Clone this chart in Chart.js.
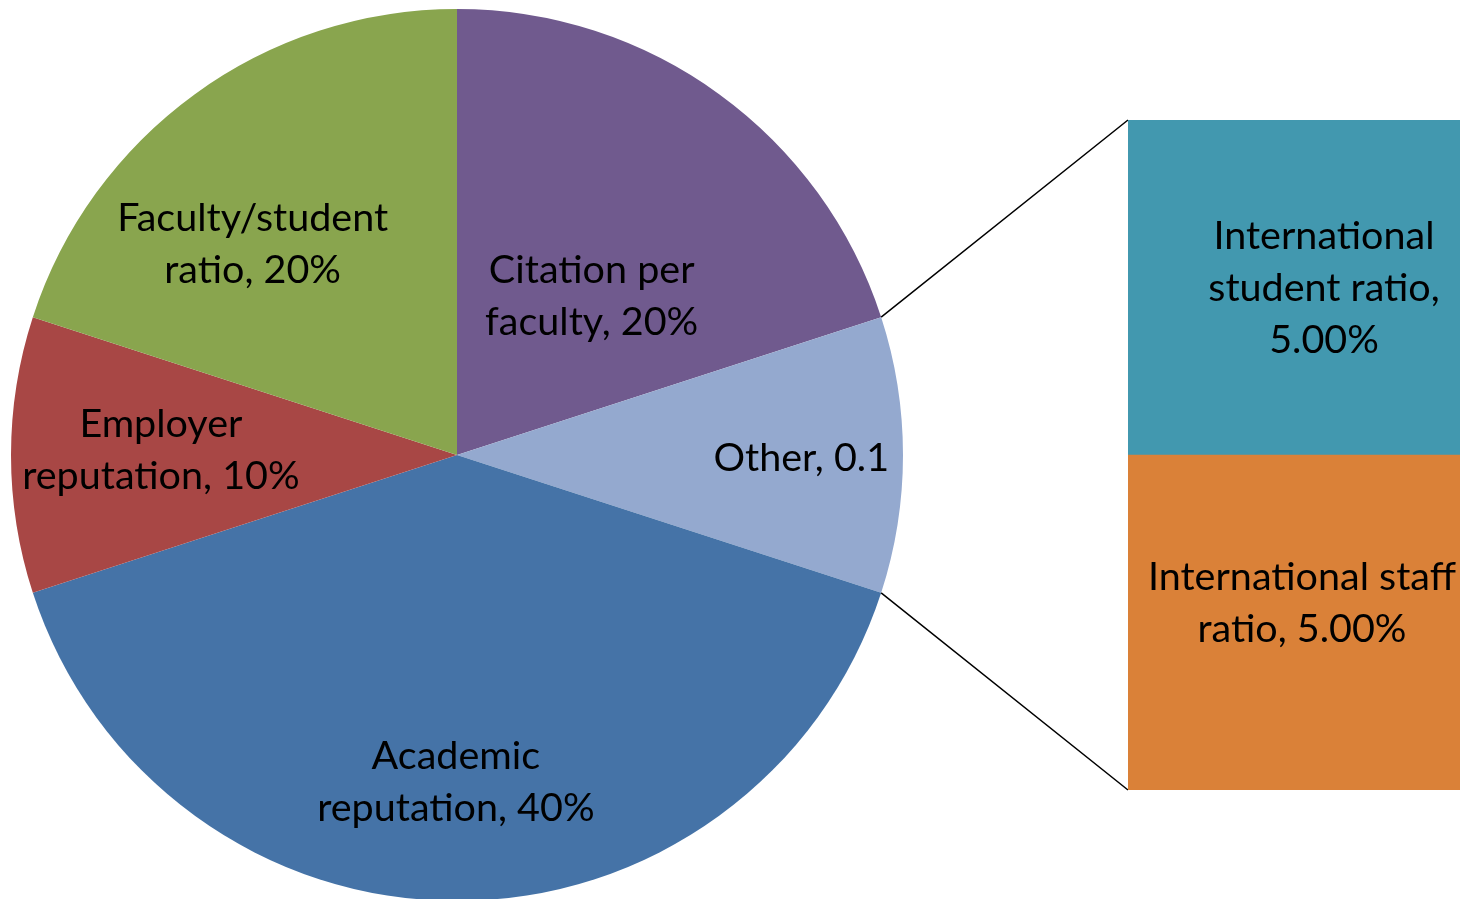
<!DOCTYPE html>
<html>
<head>
<meta charset="utf-8">
<script src="https://cdn.jsdelivr.net/npm/chart.js@4"></script>
<style>
  html, body { margin:0; padding:0; background:#fff; overflow:hidden; width:1460px; height:899px; }
  #pieCanvas { position:absolute; left:0; top:0; }
  #barCanvas { position:absolute; left:1128px; top:120px; }
</style>
</head>
<body>
<canvas id="pieCanvas" width="1460" height="908"></canvas>
<canvas id="barCanvas" width="332" height="670"></canvas>
<script>
// ---- data ----
const pieCategories = ["Citation per faculty", "Other", "Academic reputation", "Employer reputation", "Faculty/student ratio"];
const pieValues = [20, 10, 40, 10, 20];
const pieValueLabels = ["20%", "0.1", "40%", "10%", "20%"];
const pieColors = ["#705A8E", "#94A9CF", "#4573A7", "#A84745", "#89A54E"];

const barCategories = ["International staff ratio", "International student ratio"];
const barValues = [5, 5];
const barValueLabels = ["5.00%", "5.00%"];
const barColors = ["#DA8138", "#4298AF"];

const FONT = "Lato, 'Open Sans', sans-serif";
const FONT_SIZE = 39.5;
const LINE_H = 52;
const TEXT_DY = -1;

function drawLines(ctx, lines, cx, cy) {
  ctx.save();
  ctx.fillStyle = "#000";
  ctx.font = FONT_SIZE + "px " + FONT;
  ctx.textAlign = "center";
  ctx.textBaseline = "middle";
  const n = lines.length;
  lines.forEach((t, i) => {
    ctx.fillText(t, cx, cy + TEXT_DY + (i - (n - 1) / 2) * LINE_H);
  });
  ctx.restore();
}

// ---- bar of pie (right) ----
const barLabelLines = [
  ["International staff", "ratio, " + barValueLabels[0]],
  ["International", "student ratio,", barValueLabels[1]]
];
const barLabelShift = [[8, -18], [30, 2]];

const barChart = new Chart(document.getElementById("barCanvas"), {
  type: "bar",
  data: {
    labels: ["Other"],
    datasets: barCategories.map((c, i) => ({
      label: c,
      data: [barValues[i]],
      backgroundColor: barColors[i],
      borderWidth: 0,
      barPercentage: 1,
      categoryPercentage: 1
    }))
  },
  options: {
    responsive: false,
    animation: false,
    devicePixelRatio: 1,
    layout: { padding: 0 },
    plugins: { legend: { display: false }, tooltip: { enabled: false } },
    scales: {
      x: { display: false, stacked: true },
      y: { display: false, stacked: true, min: 0, max: barValues.reduce((a, b) => a + b, 0) }
    }
  },
  plugins: [{
    id: "barLabels",
    afterDatasetsDraw(chart) {
      const ctx = chart.ctx;
      chart.data.datasets.forEach((ds, i) => {
        const el = chart.getDatasetMeta(i).data[0];
        const cy = (el.y + el.base) / 2;
        drawLines(ctx, barLabelLines[i], el.x + barLabelShift[i][0], cy + barLabelShift[i][1]);
      });
    }
  }]
});

// ---- pie (left) ----
const pieLabelLines = [
  ["Citation per", "faculty, " + pieValueLabels[0]],
  ["Other, " + pieValueLabels[1]],
  ["Academic", "reputation, " + pieValueLabels[2]],
  ["Employer", "reputation, " + pieValueLabels[3]],
  ["Faculty/student", "ratio, " + pieValueLabels[4]]
];
// radial fraction and angular shift (degrees) for each label
const pieLabelPlace = [[0.465, 4.5], [0.772, 0.7], [0.736, 0.2], [0.664, 0.8], [0.656, -8.3]];

const pieChart = new Chart(document.getElementById("pieCanvas"), {
  type: "pie",
  data: {
    labels: pieCategories,
    datasets: [{
      data: pieValues,
      backgroundColor: pieColors,
      borderWidth: 0
    }]
  },
  options: {
    responsive: false,
    animation: false,
    devicePixelRatio: 1,
    layout: { padding: { left: 11, right: 557, top: 9, bottom: 7 } },
    plugins: { legend: { display: false }, tooltip: { enabled: false } }
  },
  plugins: [{
    id: "pieLabelsAndConnectors",
    afterDatasetsDraw(chart) {
      const ctx = chart.ctx;
      const arcs = chart.getDatasetMeta(0).data;
      arcs.forEach((arc, i) => {
        const mid = (arc.startAngle + arc.endAngle) / 2 + pieLabelPlace[i][1] * Math.PI / 180;
        const r = arc.outerRadius * pieLabelPlace[i][0];
        drawLines(ctx, pieLabelLines[i], arc.x + Math.cos(mid) * r, arc.y + Math.sin(mid) * r);
      });
      // connectors to the bar
      const other = arcs[1];
      const bc = barChart.canvas;
      const ox = bc.offsetLeft, oy = bc.offsetTop;
      const topEl = barChart.getDatasetMeta(1).data[0];
      const botEl = barChart.getDatasetMeta(0).data[0];
      const p1 = [other.x + Math.cos(other.startAngle) * other.outerRadius, other.y + Math.sin(other.startAngle) * other.outerRadius];
      const p2 = [other.x + Math.cos(other.endAngle) * other.outerRadius, other.y + Math.sin(other.endAngle) * other.outerRadius];
      const q1 = [ox + topEl.x - topEl.width / 2, oy + topEl.y];
      const q2 = [ox + botEl.x - botEl.width / 2, oy + botEl.base];
      ctx.save();
      ctx.strokeStyle = "#000";
      ctx.lineWidth = 1.5;
      ctx.beginPath();
      ctx.moveTo(p1[0], p1[1]); ctx.lineTo(q1[0], q1[1]);
      ctx.moveTo(p2[0], p2[1]); ctx.lineTo(q2[0], q2[1]);
      ctx.stroke();
      ctx.restore();
    }
  }]
});
</script>
</body>
</html>
